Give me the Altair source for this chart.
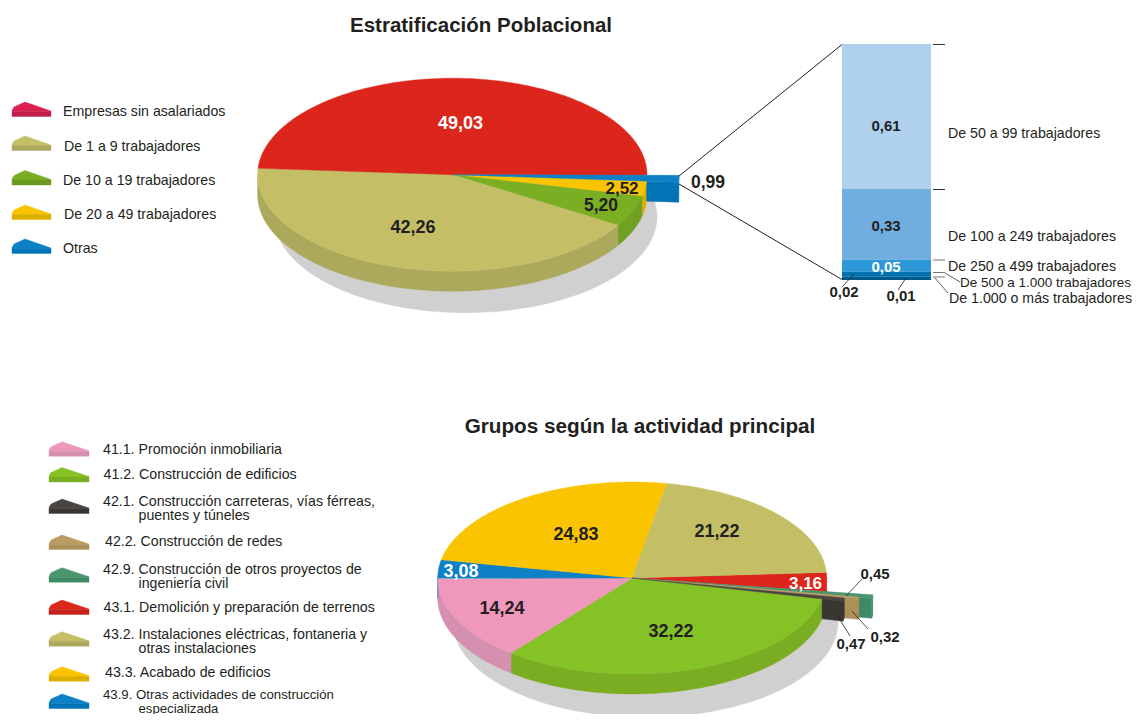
import math
import altair as alt
import pandas as pd

# ---------- data ----------
title_top = "Estratificación Poblacional"
title_bottom = "Grupos según la actividad principal"

top_names = ["Otras", "De 20 a 49 trabajadores", "De 10 a 19 trabajadores",
             "De 1 a 9 trabajadores", "Empresas sin asalariados"]
top_values = [0.99, 2.52, 5.20, 42.26, 49.03]
top_labels = ["0,99", "2,52", "5,20", "42,26", "49,03"]

bar_names = ["De 50 a 99 trabajadores", "De 100 a 249 trabajadores", "De 250 a 499 trabajadores",
             "De 500 a 1.000 trabajadores", "De 1.000 o más trabajadores"]
bar_labels = ["0,61", "0,33", "0,05", "0,02", "0,01"]
bar_drawn_shares = [0.613, 0.301, 0.051, 0.021, 0.014]

bottom_codes = ["43.1", "42.9", "42.2", "42.1", "41.2", "41.1", "43.9", "43.3", "43.2"]
bottom_values = [3.16, 0.45, 0.32, 0.47, 32.22, 14.24, 3.08, 24.83, 21.22]
bottom_labels = ["3,16", "0,45", "0,32", "0,47", "32,22", "14,24", "3,08", "24,83", "21,22"]

legend_top = ["Empresas sin asalariados", "De 1 a 9 trabajadores", "De 10 a 19 trabajadores",
              "De 20 a 49 trabajadores", "Otras"]
legend_bottom = [["41.1. Promoción inmobiliaria"],
                 ["41.2. Construcción de edificios"],
                 ["42.1. Construcción carreteras, vías férreas,", "puentes y túneles"],
                 ["42.2. Construcción de redes"],
                 ["42.9. Construcción de otros proyectos de", "ingeniería civil"],
                 ["43.1. Demolición y preparación de terrenos"],
                 ["43.2. Instalaciones eléctricas, fontaneria y", "otras instalaciones"],
                 ["43.3. Acabado de edificios"],
                 ["43.9. Otras actividades de construcción", "especializada"]]

# ---------- styles and layout ----------
FONT = "Liberation Sans"
INK = "#231f20"
SHADOW = "#d0d0d0"
top_style = {"Empresas sin asalariados": ("#dc261c", "#c4221a"), "Otras": ("#0d80c6", "#0074b4"),
             "De 20 a 49 trabajadores": ("#fac400", "#dcae00"),
             "De 10 a 19 trabajadores": ("#7aae23", "#71a022"),
             "De 1 a 9 trabajadores": ("#c4bf66", "#aca85c")}
bottom_style = {"43.1": ("#dc261c", "#c4221a"), "42.9": ("#4a9470", "#3f8a66"), "42.2": ("#bb9c62", "#ad9059"),
                "42.1": ("#4a4540", "#3a3632"), "41.2": ("#84c225", "#7bad23"), "41.1": ("#f098bc", "#d490ae"),
                "43.9": ("#0d80c6", "#0074b4"), "43.3": ("#fac400", "#dcae00"), "43.2": ("#c4bf66", "#aca85c")}
legend_top_colors = [("#dc1e50", "#c01e4a"), ("#c4bf66", "#aca85c"), ("#7aae23", "#6b9a20"),
                     ("#fac400", "#dcae00"), ("#0d80c6", "#0074b4")]
legend_bottom_colors = [("#f098bc", "#d490ae"), ("#84c225", "#7bad23"), ("#4a4540", "#3a3632"),
                        ("#bb9c62", "#ad9059"), ("#4a9470", "#3f8a66"), ("#dc261c", "#c4221a"),
                        ("#c4bf66", "#aca85c"), ("#fac400", "#dcae00"), ("#0d80c6", "#0074b4")]

SX = alt.Scale(domain=[8, 1134], nice=False, zero=False)
SY = alt.Scale(domain=[714, 8], nice=False, zero=False)
X = alt.X("x:Q", scale=SX, axis=None)
Y = alt.Y("y:Q", scale=SY, axis=None)
layers = []


def polygon(points, fill, stroke=None):
    df = pd.DataFrame([{"x": round(a, 2), "y": round(b, 2), "i": k} for k, (a, b) in enumerate(points + points[:1])])
    layers.append(alt.Chart(df).mark_line(fill=fill, stroke=stroke or fill, strokeWidth=0.4, interpolate="linear")
                  .encode(x=X, y=Y, order=alt.Order("i:Q")))


def rule(points, color=INK, width=0.8):
    df = pd.DataFrame([{"x": a, "y": b, "i": k} for k, (a, b) in enumerate(points)])
    layers.append(alt.Chart(df).mark_line(stroke=color, strokeWidth=width).encode(x=X, y=Y, order=alt.Order("i:Q")))


def text(label, x, y, size=14.2, bold=False, color=INK, align="left"):
    df = pd.DataFrame([{"x": x, "y": y + 1, "t": label}])
    layers.append(alt.Chart(df).mark_text(font=FONT, fontSize=size, fontWeight="bold" if bold else "normal",
                                          color=color, align=align, baseline="middle")
                  .encode(x=X, y=Y, text="t:N"))


def at(pie, t, k=1.0, dy=0.0):
    cx, cy, rx, ry = pie
    a = math.radians(t)
    return (cx + k * rx * math.cos(a), cy + k * ry * math.sin(a) + dy)


def arc(pie, t1, t2, k=1.0, dy=0.0):
    n = max(2, int(abs(t2 - t1) / 1.5) + 2)
    return [at(pie, t1 + (t2 - t1) * j / (n - 1), k, dy) for j in range(n)]


def spans(values, start):
    out, t = [], start
    for v in values:
        out.append((t, t + v * 3.6))
        t += v * 3.6
    return out


def draw_pie(pie, shadow, values, names, styles, start, depth, exploded):
    span = spans(values, start)
    polygon(arc(shadow, 0, 360), SHADOW)
    for (a, b), n in zip(span, names):
        lo, hi = max(a, 0), min(b, 180)
        if hi > lo and n not in exploded:
            polygon(arc(pie, lo, hi) + arc(pie, hi, lo, dy=depth), styles[n][1])
    for n in exploded:
        a, b = span[names.index(n)]
        k = exploded[n]
        polygon(arc(pie, a, b, k) + arc(pie, b, a, k, depth), styles[n][1])
        polygon([at(pie, b), at(pie, b, k), at(pie, b, k, depth), at(pie, b, 1, depth)], styles[n][1])
    for (a, b), n in zip(span, names):
        if n not in exploded:
            polygon([(pie[0], pie[1])] + arc(pie, a, b), styles[n][0])
    for n in exploded:
        a, b = span[names.index(n)]
        polygon([(pie[0], pie[1])] + arc(pie, a, b, exploded[n]), styles[n][0])


def icon(x0, y0, w, colors):
    top, side = colors
    polygon([(x0, y0 + 8.5), (x0 + 2, y0 + 5), (x0 + 13, y0), (x0 + w, y0 + 9), (x0 + w, y0 + 9.5), (x0, y0 + 9.5)], top)
    polygon([(x0, y0 + 9.5), (x0 + w, y0 + 9.5), (x0 + w, y0 + 14.5), (x0, y0 + 14.5)], side)


# ---------- top pie ----------
PIE_T = (452.3, 174.7, 194.7, 96.5)
draw_pie(PIE_T, (465.5, 216.7, 191.5, 96), top_values, top_names, top_style, 0.3, 20,
         {"Otras": 226.7 / 194.7})

rule([(679, 176), (842, 44.5)], width=1)
rule([(679, 184), (842, 279.5)], width=1)

BAR_TOP, BAR_H = 44.0, 236.0
y0 = BAR_TOP
bar_colors = ["#afd0ee", "#70aedf", "#2c98d8", "#0072b0", "#005a8c"]
for share, color in zip(bar_drawn_shares, bar_colors):
    y1 = y0 + share * BAR_H
    df = pd.DataFrame([{"x": 842, "x2": 931, "y": y0, "y2": y1}])
    layers.append(alt.Chart(df).mark_rect(color=color).encode(x=X, x2="x2:Q", y=Y, y2="y2:Q"))
    y0 = y1

for yy in [44.5, 189.5]:
    rule([(933, yy), (945, yy)], color="#333333", width=1)
for yy in [260, 272.5, 277]:
    rule([(933, yy), (945, yy)], color="#777777", width=1)
rule([(945, 273), (960, 282)], color="#333333")
rule([(935, 278), (948, 293)], color="#333333")
rule([(854, 274), (842, 287)], color="#222222")
rule([(906, 278), (898, 290)], color="#222222")

for name, lx, ly, sz in zip(bar_names, [948, 948, 948, 960, 949], [133, 236, 266, 282, 298],
                            [14.2, 14.2, 14.2, 13.5, 14.2]):
    text(name, lx, ly, sz)
for lab, lx, ly, col in zip(bar_labels, [886, 886, 886, 844, 901], [126, 226, 267, 292, 296],
                            [INK, INK, "white", INK, INK]):
    text(lab, lx, ly - 1, 15, True, col, "center")

for lab, lx, ly, col, sz in zip(top_labels, [708, 622, 601, 413, 460.5], [182, 188, 205, 227, 123],
                                [INK, INK, INK, INK, "white"], [17.5, 17, 17.5, 18, 18]):
    text(lab, lx, ly, sz, True, col, "center")

text(title_top, 481, 25, 20.5, True, INK, "center")

for k, name in enumerate(legend_top):
    top_y = [102, 136, 170.5, 205, 239][k]
    icon(12, top_y, 39, legend_top_colors[k])
    text(name, [63, 64, 63, 64, 63][k], [111, 146, 180, 214, 248][k])

# ---------- bottom pie ----------
PIE_B = (632.2, 578, 194.5, 96)
draw_pie(PIE_B, (645.5, 622, 192.5, 95.3), bottom_values, bottom_codes, bottom_style, -3.3, 20,
         {"42.9": 243 / 194.5, "42.2": 230 / 194.5, "42.1": 216 / 194.5})

rule([(862, 579), (846, 596)], color="#222222")
rule([(852, 611), (868, 629)], color="#222222")
rule([(837, 615), (850, 636)], color="#222222")

for lab, lx, ly, col, sz in zip(bottom_labels,
                                [805.5, 875, 885, 851, 671, 502, 461, 576, 717],
                                [583, 573, 636, 643, 631, 608, 571, 534, 531],
                                ["white", INK, INK, INK, INK, INK, "white", INK, INK],
                                [17, 15, 15, 15, 18, 18, 18, 18, 18]):
    text(lab, lx, ly, sz, True, col, "center")

text(title_bottom, 640, 426, 20.7, True, INK, "center")

icon_tops = [441.7, 467.5, 499, 535, 567.7, 600, 631.7, 666.7, 694]
line_ys = [[449.3], [474.3], [501, 515], [541], [568.6, 583], [607.3], [634.3, 648.3], [672.3], [693.5, 707.5]]
first_x = [103, 103.5, 103, 105, 103, 103.5, 103, 105, 103]
for k, lines in enumerate(legend_bottom):
    size = 13.2 if k == len(legend_bottom) - 1 else 14.2
    icon(49, icon_tops[k], 40, legend_bottom_colors[k])
    text(lines[0], first_x[k], line_ys[k][0], size)
    if len(lines) > 1:
        text(lines[1], 138.5, line_ys[k][1], size)

chart = alt.layer(*layers).properties(
    width=1126, height=706, padding=0,
    autosize=alt.AutoSizeParams(type="none"),
).configure_view(stroke=None)

chart.save("out.html", embed_options={"renderer": "svg", "actions": False})
